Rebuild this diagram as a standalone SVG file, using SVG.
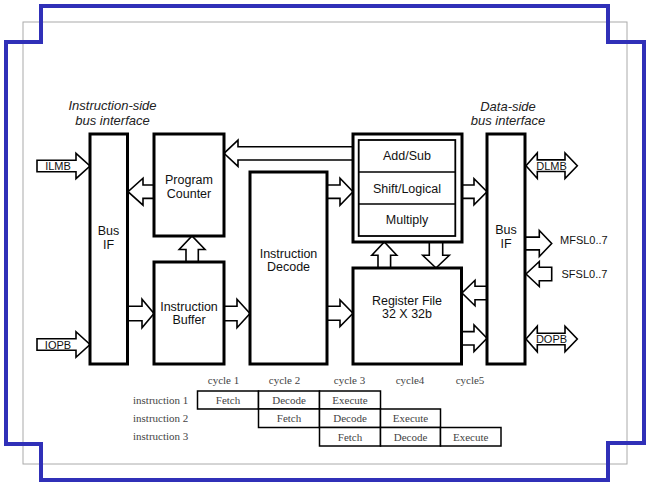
<svg xmlns="http://www.w3.org/2000/svg" width="650" height="487" viewBox="0 0 650 487">
<style>
.box{fill:#fff;stroke:#000;stroke-width:3}
.inner{fill:#fff;stroke:#000;stroke-width:1.8}
.arr{fill:#fff;stroke:#000;stroke-width:1.6;stroke-linejoin:miter}
.lbl{font-family:"Liberation Sans",Arial,sans-serif;font-size:12.5px;fill:#111;text-anchor:middle}
.ital{font-family:"Liberation Sans",Arial,sans-serif;font-size:13px;font-style:italic;fill:#222;text-anchor:middle}
.sig{font-family:"Liberation Sans",Arial,sans-serif;font-size:11px;fill:#111}
.tb{font-family:"Liberation Serif","Times New Roman",serif;font-size:11px;fill:#444}
.cell{fill:#fff;stroke:#000;stroke-width:1.5}
</style>
<rect x="23" y="22" width="604" height="442" fill="none" stroke="#aaa" stroke-width="1"/>
<path d="M41,6 H608 V42 H644 V443 H608 V480 H41 V444 H6 V42 H41 Z" fill="none" stroke="#3030b8" stroke-width="4"/>

<text class="ital" x="112.5" y="110">Instruction-side</text>
<text class="ital" x="112.5" y="125">bus interface</text>
<text class="ital" x="508" y="111">Data-side</text>
<text class="ital" x="508" y="125">bus interface</text>

<g id="connectors">
  <!-- ILMB -->
  <polygon class="arr" points="37,160.3 76,160.3 76,153.3 90,166 76,178.7 76,171.7 37,171.7"/>
  <!-- IOPB -->
  <polygon class="arr" points="37,338.8 76,338.8 76,331.7 90,344.5 76,357.3 76,350.2 37,350.2"/>
  <!-- PC -> Bus IF -->
  <polygon class="arr" points="154,185 143,185 143,178.2 128,191.7 143,205.2 143,198.4 154,198.4"/>
  <!-- Bus IF -> IB -->
  <polygon class="arr" points="128,306.3 142,306.3 142,299.3 154,313.5 142,327.7 142,320.7 128,320.7"/>
  <!-- IB -> ID -->
  <polygon class="arr" points="224,306.3 237,306.3 237,299.3 250,313.5 237,327.7 237,320.7 224,320.7"/>
  <!-- IB -> PC (up) -->
  <polygon class="arr" points="186,262 186,249.5 179.2,249.5 192,236 205,249.5 198.3,249.5 198.3,262"/>
  <!-- ALU -> PC -->
  <polygon class="arr" points="353,146.7 238,146.7 238,140.2 224,153.3 238,166.4 238,160 353,160"/>
  <!-- ID -> ALU -->
  <polygon class="arr" points="327,185 340,185 340,178.2 353,191.7 340,205.2 340,198.4 327,198.4"/>
  <!-- ID -> RF -->
  <polygon class="arr" points="327,306.3 340,306.3 340,300 353,313.3 340,326.6 340,320.3 327,320.3"/>
  <!-- RF -> ALU (up) -->
  <polygon class="arr" points="378,268 378,255.3 371.8,255.3 384.3,242 396.8,255.3 390.6,255.3 390.6,268"/>
  <!-- ALU -> RF (down) -->
  <polygon class="arr" points="429.3,242 429.3,255.3 422.7,255.3 436,268 449.3,255.3 442.7,255.3 442.7,242"/>
  <!-- ALU -> Bus IF right -->
  <polygon class="arr" points="462,185 474,185 474,178.7 487,191.7 474,204.7 474,198.4 462,198.4"/>
  <!-- Bus IF right -> RF -->
  <polygon class="arr" points="487,286.3 475,286.3 475,280.3 462,293 475,305.7 475,299.7 487,299.7"/>
  <!-- RF -> Bus IF right -->
  <polygon class="arr" points="462,331.6 474,331.6 474,325 487,338.3 474,351.6 474,345 462,345"/>
  <!-- DLMB -->
  <polygon class="arr" points="526,165.7 537.3,152.9 537.3,159.9 565,159.9 565,152.9 577.3,165.7 565,178.5 565,171.5 537.3,171.5 537.3,178.5"/>
  <!-- MFSL -->
  <polygon class="arr" points="525,237.1 539.3,237.1 539.3,230.5 551.7,243.5 539.3,256.5 539.3,249.9 525,249.9"/>
  <!-- SFSL -->
  <polygon class="arr" points="551.7,267.3 539.3,267.3 539.3,261.5 526,274 539.3,286.5 539.3,280.7 551.7,280.7"/>
  <!-- DOPB -->
  <polygon class="arr" points="526,339 537.3,326.2 537.3,333.2 565,333.2 565,326.2 577.3,339 565,351.8 565,344.8 537.3,344.8 537.3,351.8"/>
  <text class="sig" x="58" y="170" text-anchor="middle">ILMB</text>
  <text class="sig" x="58" y="348.5" text-anchor="middle">IOPB</text>
  <text class="sig" x="551.5" y="169.7" text-anchor="middle">DLMB</text>
  <text class="sig" x="551.5" y="343" text-anchor="middle">DOPB</text>
  <text class="sig" x="560" y="244">MFSL0..7</text>
  <text class="sig" x="561.5" y="278">SFSL0..7</text>
</g>

<g id="bus-if-left">
  <rect class="box" x="90" y="134" width="37.5" height="230"/>
  <text class="lbl" x="108.5" y="235">Bus</text>
  <text class="lbl" x="108.5" y="249">IF</text>
</g>
<g id="program-counter">
  <rect class="box" x="154" y="134" width="70" height="102"/>
  <text class="lbl" x="189" y="183.5">Program</text>
  <text class="lbl" x="189" y="197.5">Counter</text>
</g>
<g id="instruction-buffer">
  <rect class="box" x="154" y="262" width="70" height="102"/>
  <text class="lbl" x="189" y="310.5">Instruction</text>
  <text class="lbl" x="189" y="324">Buffer</text>
</g>
<g id="instruction-decode">
  <rect class="box" x="250" y="172" width="77" height="192"/>
  <text class="lbl" x="288.5" y="258">Instruction</text>
  <text class="lbl" x="288.5" y="271">Decode</text>
</g>
<g id="alu">
  <rect class="box" x="353" y="134" width="109" height="108"/>
  <rect class="inner" x="358.7" y="140" width="96.6" height="96"/>
  <line x1="358.7" y1="172" x2="455.3" y2="172" stroke="#000" stroke-width="1.5"/>
  <line x1="358.7" y1="204" x2="455.3" y2="204" stroke="#000" stroke-width="1.5"/>
  <text class="lbl" x="407" y="159.5">Add/Sub</text>
  <text class="lbl" x="407" y="192.5">Shift/Logical</text>
  <text class="lbl" x="407" y="224">Multiply</text>
</g>
<g id="register-file">
  <rect class="box" x="353" y="268" width="108.5" height="96"/>
  <text class="lbl" x="407" y="304.5">Register File</text>
  <text class="lbl" x="407" y="318">32 X 32b</text>
</g>
<g id="bus-if-right">
  <rect class="box" x="487" y="134" width="38" height="230"/>
  <text class="lbl" x="506" y="234">Bus</text>
  <text class="lbl" x="506" y="248">IF</text>
</g>

<g id="pipeline">
  <text class="tb" x="223.5" y="383.5" text-anchor="middle">cycle 1</text>
  <text class="tb" x="284.5" y="383.5" text-anchor="middle">cycle 2</text>
  <text class="tb" x="349.5" y="383.5" text-anchor="middle">cycle 3</text>
  <text class="tb" x="410" y="383.5" text-anchor="middle">cycle4</text>
  <text class="tb" x="470" y="383.5" text-anchor="middle">cycle5</text>
  <text class="tb" x="133" y="403.5">instruction 1</text>
  <text class="tb" x="133" y="421.5">instruction 2</text>
  <text class="tb" x="133" y="440">instruction 3</text>
  <rect class="cell" x="197.5" y="391" width="61" height="18"/>
  <rect class="cell" x="258.5" y="391" width="61" height="18"/>
  <rect class="cell" x="319.5" y="391" width="61" height="18"/>
  <rect class="cell" x="258.5" y="409" width="61" height="18.5"/>
  <rect class="cell" x="319.5" y="409" width="61" height="18.5"/>
  <rect class="cell" x="380.5" y="409" width="60" height="18.5"/>
  <rect class="cell" x="319.5" y="427.5" width="61" height="18.5"/>
  <rect class="cell" x="380.5" y="427.5" width="60" height="18.5"/>
  <rect class="cell" x="440.5" y="427.5" width="60.5" height="18.5"/>
  <text class="tb" x="228" y="403.5" text-anchor="middle">Fetch</text>
  <text class="tb" x="289" y="403.5" text-anchor="middle">Decode</text>
  <text class="tb" x="350" y="403.5" text-anchor="middle">Execute</text>
  <text class="tb" x="289" y="421.5" text-anchor="middle">Fetch</text>
  <text class="tb" x="350" y="421.5" text-anchor="middle">Decode</text>
  <text class="tb" x="410.5" y="421.5" text-anchor="middle">Execute</text>
  <text class="tb" x="350" y="440.5" text-anchor="middle">Fetch</text>
  <text class="tb" x="410.5" y="440.5" text-anchor="middle">Decode</text>
  <text class="tb" x="470.7" y="440.5" text-anchor="middle">Execute</text>
</g>
</svg>
